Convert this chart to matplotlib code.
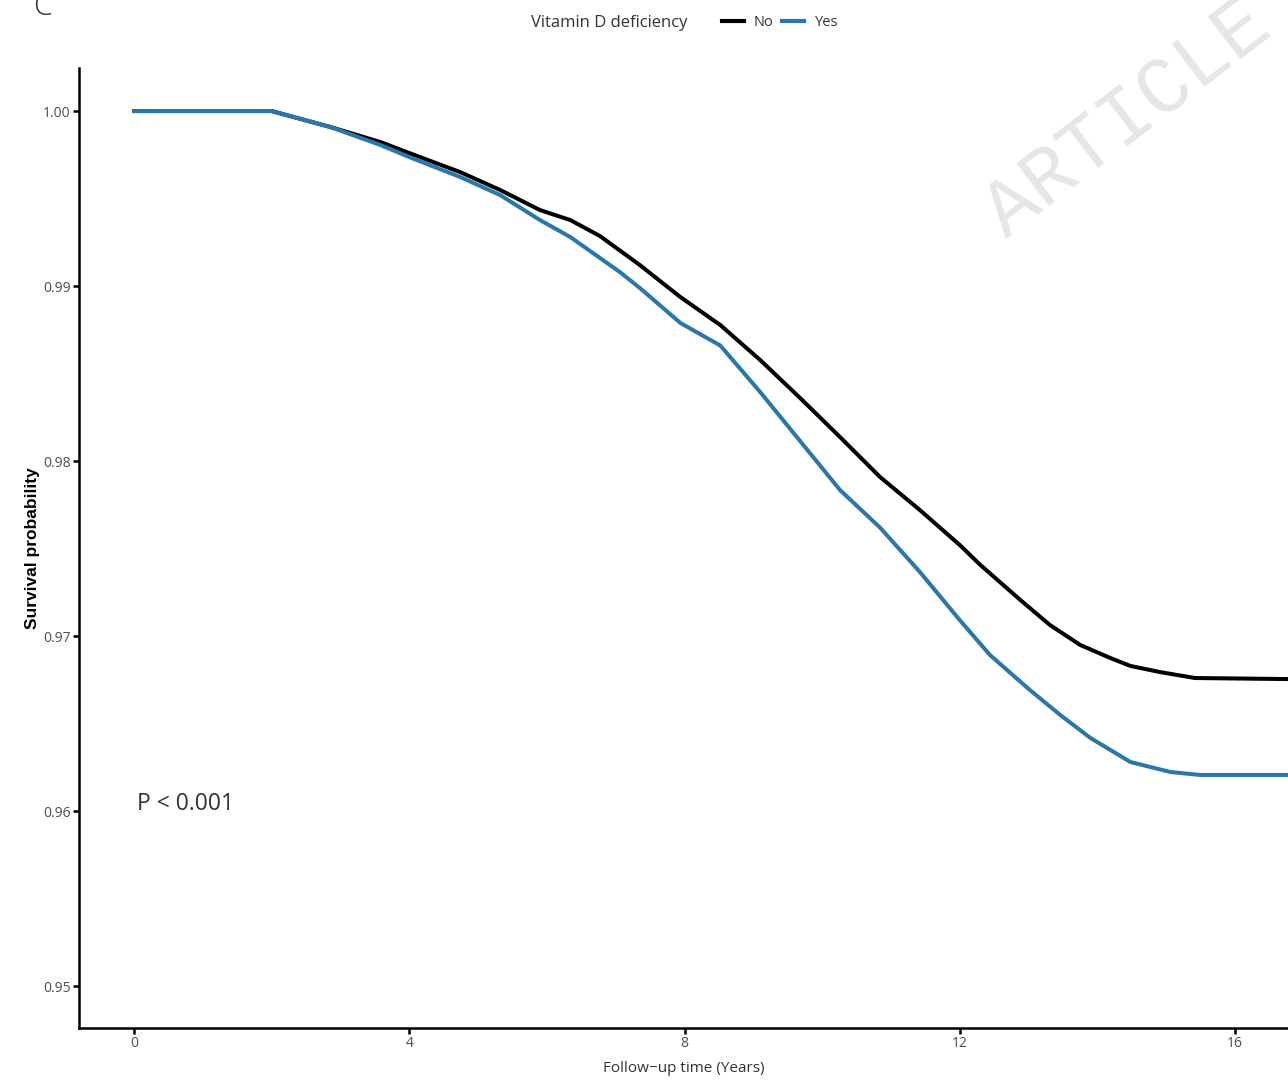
import matplotlib
matplotlib.use("Agg")
import matplotlib.pyplot as plt
from matplotlib.lines import Line2D

# Kaplan-Meier curves (years, survival probability)
time_no = [0, 2.0, 2.85, 3.58, 4.0, 4.74, 5.32, 5.90, 6.34, 6.77, 7.35, 7.94,
           8.52, 9.10, 9.68, 10.26, 10.84, 11.42, 12.0, 12.30, 12.88,
           13.31, 13.75, 14.19, 14.48, 14.91, 15.42, 16.77]
surv_no = [1.0, 1.0, 0.99909, 0.99823, 0.99760, 0.99651, 0.99549, 0.99434,
           0.99377, 0.99286, 0.99120, 0.98937, 0.98777, 0.98577,
           0.98360, 0.98137, 0.97909, 0.97720, 0.97520, 0.97406, 0.97206,
           0.97063, 0.96949, 0.96874, 0.96829, 0.96794, 0.96760, 0.96754]

time_yes = [0, 2.0, 2.85, 3.58, 4.0, 4.74, 5.32, 5.90, 6.34, 7.06, 7.35, 7.94,
            8.52, 9.10, 9.68, 10.26, 10.84, 11.42, 12.0, 12.44, 13.02, 13.46,
            13.90, 14.48, 15.06, 15.49, 16.77]
surv_yes = [1.0, 1.0, 0.99909, 0.99806, 0.99737, 0.99623, 0.99520, 0.99377,
            0.99280, 0.99080, 0.98989, 0.98789, 0.98660, 0.98394, 0.98114,
            0.97834, 0.97620, 0.97366, 0.97091, 0.96891, 0.96691, 0.96549,
            0.96417, 0.96280, 0.96223, 0.96206, 0.96206]

groups = ["No", "Yes"]
colors = ["black", "#2A77AC"]
x_ticks = [0, 4, 8, 12, 16]
y_ticks = [0.95, 0.96, 0.97, 0.98, 0.99, 1.00]

W, H = 1288, 1081
fig = plt.figure(figsize=(W / 100, H / 100), dpi=100)
ax = fig.add_axes([79 / W, 1 - 1028 / H, 1 - 79 / W, (1028 - 68) / H])

ax.plot(time_no, surv_no, color=colors[0], lw=2.9, solid_joinstyle="round")
ax.plot(time_yes, surv_yes, color=colors[1], lw=2.9, solid_joinstyle="round")

ax.set_xlim(-0.8, 16.77)
ax.set_ylim(0.94760, 1.00246)
ax.set_xticks(x_ticks)
ax.set_xticklabels([str(t) for t in x_ticks])
ax.set_yticks(y_ticks)
ax.set_yticklabels([f"{v:.2f}" for v in y_ticks])

for side in ["top", "right"]:
    ax.spines[side].set_visible(False)
for side in ["left", "bottom"]:
    ax.spines[side].set_linewidth(1.8)
ax.tick_params(direction="out", length=4, width=1.8, pad=2,
               labelsize=10, labelcolor="#4D4D4D")
for lab in ax.get_xticklabels() + ax.get_yticklabels():
    lab.set_family("Open Sans")

ax.set_xlabel("Follow\u2212up time (Years)", family="Open Sans", fontsize=11,
              color="#333333", labelpad=7)
ax.set_ylabel("Survival probability", family="Liberation Sans", fontsize=12.5,
              fontweight="bold", labelpad=2)

ax.text(0.05, 0.9604, "P < 0.001", family="Open Sans", fontsize=16.5,
        color="#333333", va="center", ha="left")

# legend at the top, ggplot style
fig.text(531 / W, 1 - 23 / H, "Vitamin D deficiency", family="Open Sans",
         fontsize=12, color="#333333", va="center", ha="left")
handles = [Line2D([0], [0], color=c, lw=3) for c in colors]
leg = fig.legend(handles, groups, loc="center left", ncol=2,
                 bbox_to_anchor=(716 / W, 1 - 23 / H), frameon=False,
                 handlelength=1.5, handletextpad=0.7, columnspacing=0.6,
                 prop={"family": "Open Sans", "size": 10.5}, borderaxespad=0)
for t in leg.get_texts():
    t.set_color("#333333")

# panel letter (cut at the top edge) and watermark
fig.text(33 / W, 1 - 15 / H, "C", family="Open Sans", fontsize=22,
         color="#333333", va="baseline", ha="left", fontweight="light")
fig.text(1128 / W, 1 - 120 / H, "ARTICLE", family="Liberation Mono",
         fontsize=58, color="#E6E6E6", rotation=37.5, ha="center",
         va="center", zorder=0)

fig.savefig("out.png", dpi=100)
